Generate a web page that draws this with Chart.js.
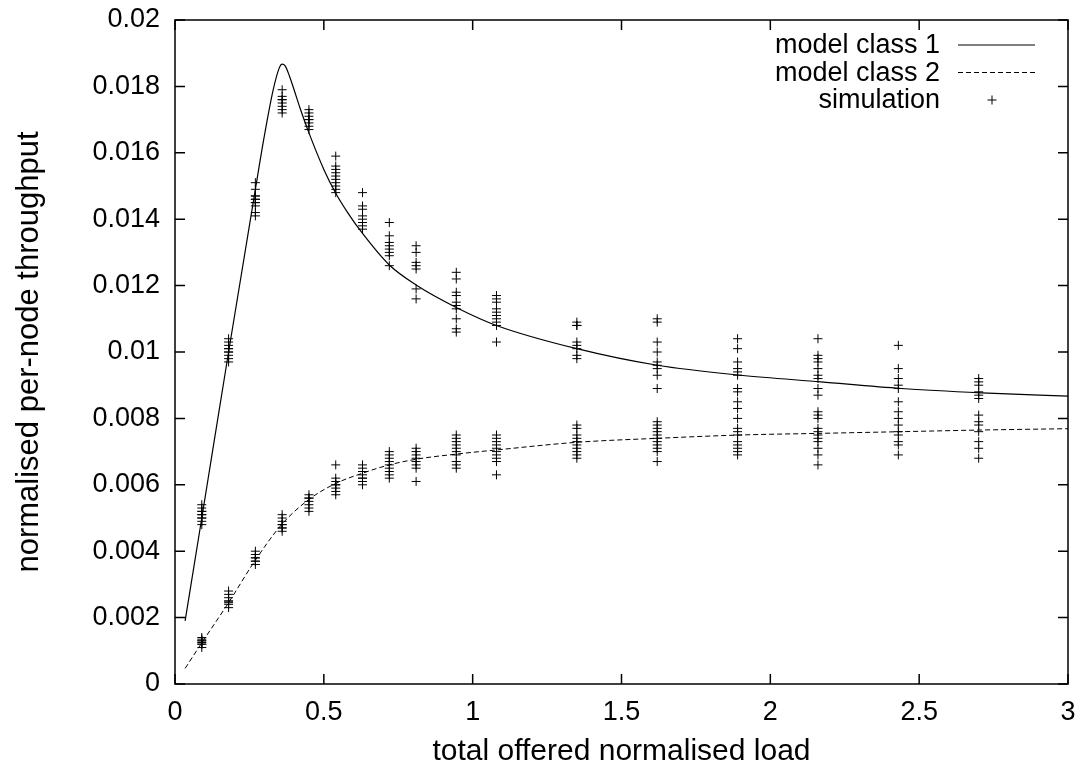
<!DOCTYPE html>
<html>
<head>
<meta charset="utf-8">
<title>Per-node throughput</title>
<script src="https://cdn.jsdelivr.net/npm/chart.js@4.4.1/dist/chart.umd.min.js"></script>
<style>
  html, body { margin: 0; padding: 0; background: #fff; }
  #wrap { width: 1081px; height: 767px; }
</style>
</head>
<body>
<div id="wrap"><canvas id="throughput-chart" width="1081" height="767"></canvas></div>
<script>
// --- Datos ---

// Curva del modelo, clase 1
const model1Load = [0.034, 0.09, 0.18, 0.27, 0.30, 0.33, 0.35, 0.36, 0.37, 0.385, 0.40, 0.42, 0.45, 0.50, 0.54,
                    0.58, 0.63, 0.72, 0.81, 0.95, 1.08, 1.35, 1.62, 1.9, 2.17, 2.44, 2.71, 3.0];
const model1Thr = [0.0019, 0.0050, 0.0100, 0.0149, 0.0165, 0.0179, 0.01855, 0.01867, 0.01862, 0.0183, 0.0179, 0.01735,
                   0.0166, 0.0155, 0.01478, 0.0142, 0.01357, 0.01262, 0.01202, 0.01132, 0.0108, 0.0101, 0.0096,
                   0.0093, 0.0091, 0.0089, 0.00877, 0.00867];

// Curva del modelo, clase 2
const model2Load = [0.034, 0.09, 0.18, 0.27, 0.36, 0.45, 0.54, 0.63, 0.72, 0.81, 0.95, 1.08, 1.35, 1.62, 1.9,
                    2.17, 2.44, 2.71, 3.0];
const model2Thr = [0.00047, 0.00124, 0.00245, 0.00373, 0.00482, 0.00556, 0.00604, 0.00635, 0.0066, 0.00677,
                   0.00693, 0.00705, 0.00728, 0.0074, 0.0075, 0.00755, 0.0076, 0.00765, 0.00769];

// Cargas donde hay simulaciones
const simLoads = [0.09, 0.18, 0.27, 0.36, 0.45, 0.54, 0.63, 0.72, 0.81, 0.945, 1.08, 1.35, 1.62, 1.89, 2.16, 2.43, 2.70];

// Resultados de simulación, clase 1 (una lista por carga)
const simClass1 = [
    [0.0048, 0.0049, 0.0050, 0.0050, 0.0051, 0.0051, 0.0052, 0.0052, 0.0053, 0.0054],
    [0.0097, 0.0098, 0.0099, 0.0100, 0.0100, 0.0101, 0.0101, 0.0102, 0.0103, 0.0104],
    [0.0151, 0.0149, 0.0147, 0.0147, 0.0146, 0.0146, 0.0145, 0.0145, 0.0144, 0.0142, 0.0141],
    [0.0179, 0.0177, 0.0176, 0.0176, 0.0175, 0.0174, 0.0173, 0.0172],
    [0.0173, 0.0172, 0.0171, 0.0170, 0.0170, 0.0169, 0.0168, 0.0167],
    [0.0159, 0.0156, 0.0155, 0.0154, 0.0153, 0.0152, 0.0151, 0.0150, 0.0149, 0.0148],
    [0.0148, 0.0144, 0.0143, 0.0141, 0.0140, 0.0139, 0.0138, 0.0137],
    [0.0139, 0.0135, 0.0133, 0.0132, 0.0131, 0.0130, 0.0129, 0.0126],
    [0.0132, 0.0130, 0.0127, 0.0126, 0.0125, 0.0119, 0.0116],
    [0.0124, 0.0122, 0.0118, 0.0117, 0.0115, 0.0114, 0.0113, 0.0110, 0.0107, 0.0106],
    [0.0117, 0.0116, 0.0115, 0.0113, 0.0112, 0.0111, 0.0110, 0.0109, 0.0108, 0.0103],
    [0.0109, 0.0108, 0.0108, 0.0103, 0.0102, 0.0101, 0.0099, 0.0098],
    [0.0110, 0.0109, 0.0103, 0.0100, 0.0097, 0.0096, 0.0095, 0.0093, 0.0089],
    [0.0104, 0.0101, 0.0097, 0.0095, 0.0094, 0.0093, 0.0089, 0.0088, 0.0085, 0.0083],
    [0.0104, 0.0099, 0.0098, 0.0097, 0.0095, 0.0093, 0.0092, 0.0089, 0.0087],
    [0.0102, 0.0095, 0.0092, 0.0090, 0.0089, 0.0085],
    [0.0092, 0.0091, 0.0090, 0.0088, 0.0087, 0.0086]
];

// Resultados de simulación, clase 2
const simClass2 = [
    [0.0011, 0.0012, 0.0012, 0.00125, 0.0013, 0.0013, 0.00135, 0.0014],
    [0.0023, 0.0024, 0.00245, 0.0025, 0.0025, 0.0026, 0.0027, 0.0028],
    [0.0036, 0.0037, 0.0037, 0.0038, 0.0038, 0.0039, 0.0040],
    [0.0046, 0.0047, 0.0047, 0.0048, 0.0048, 0.0049, 0.0050, 0.0051],
    [0.0052, 0.0053, 0.0054, 0.0055, 0.0056, 0.0056, 0.0057],
    [0.0057, 0.0058, 0.0059, 0.0060, 0.0060, 0.0061, 0.0062, 0.0066],
    [0.0060, 0.0061, 0.0062, 0.0062, 0.0063, 0.0064, 0.0065, 0.0066],
    [0.0062, 0.0063, 0.0064, 0.0065, 0.0066, 0.0067, 0.0068, 0.0069, 0.0070],
    [0.0061, 0.0065, 0.0066, 0.0067, 0.0068, 0.0069, 0.0070, 0.0071],
    [0.0065, 0.0066, 0.0067, 0.0069, 0.0070, 0.0071, 0.0072, 0.0073, 0.0074, 0.0075],
    [0.0063, 0.0067, 0.0068, 0.0069, 0.0070, 0.0071, 0.0072, 0.0073, 0.0074, 0.0075],
    [0.0068, 0.0069, 0.0070, 0.0071, 0.0072, 0.0073, 0.0074, 0.0075, 0.0077, 0.0078],
    [0.0067, 0.0070, 0.0071, 0.0072, 0.0073, 0.0074, 0.0075, 0.0076, 0.0077, 0.0078, 0.0079],
    [0.0069, 0.0070, 0.0071, 0.0072, 0.0073, 0.0075, 0.0076, 0.0077, 0.0080],
    [0.0066, 0.0069, 0.0071, 0.0073, 0.0074, 0.0075, 0.0076, 0.0077, 0.0080, 0.0081, 0.0082],
    [0.0069, 0.0072, 0.0073, 0.0075, 0.0076, 0.0078, 0.0080, 0.0082],
    [0.0068, 0.0071, 0.0073, 0.0076, 0.0078, 0.0079, 0.0081]
];

// Marcas de los ejes
const xTicks = [0, 0.5, 1, 1.5, 2, 2.5, 3];
const yTicks = [0, 0.002, 0.004, 0.006, 0.008, 0.01, 0.012, 0.014, 0.016, 0.018, 0.02];

const seriesLabels = ['model class 1', 'model class 2', 'simulation'];

// --- Estilo ---
const FAMILY = "'Liberation Sans', Arial, Helvetica, sans-serif";
const FONT = { family: FAMILY, size: 27 };
const X_TITLE_FONT = { family: FAMILY, size: 30, lineHeight: 1 };
const Y_TITLE_FONT = { family: FAMILY, size: 31, lineHeight: 1 };
const TICK_LEN = 10;

// Convierte dos listas en puntos {x, y}
function toPoints(xs, ys) {
    return xs.map((x, i) => ({ x: x, y: ys[i] }));
}

// Aplana las simulaciones (todas se dibujan igual, con "+")
function simPoints() {
    const pts = [];
    simLoads.forEach((load, i) => {
        simClass1[i].forEach(v => pts.push({ x: load, y: v }));
        simClass2[i].forEach(v => pts.push({ x: load, y: v }));
    });
    return pts;
}

/**
 * Dibuja el marco y las marcas hacia dentro, estilo gnuplot.
 */
const gnuplotFrame = {
    id: 'gnuplotFrame',
    afterDatasetsDraw(chart) {
        const { ctx, chartArea: a, scales } = chart;
        ctx.save();
        ctx.strokeStyle = '#000';
        ctx.lineWidth = 1.5;
        ctx.beginPath();
        scales.x.ticks.forEach(t => {
            const px = scales.x.getPixelForValue(t.value);
            ctx.moveTo(px, a.bottom); ctx.lineTo(px, a.bottom - TICK_LEN);
            ctx.moveTo(px, a.top); ctx.lineTo(px, a.top + TICK_LEN);
        });
        scales.y.ticks.forEach(t => {
            const py = scales.y.getPixelForValue(t.value);
            ctx.moveTo(a.left, py); ctx.lineTo(a.left + TICK_LEN, py);
            ctx.moveTo(a.right, py); ctx.lineTo(a.right - TICK_LEN, py);
        });
        ctx.stroke();
        ctx.strokeRect(a.left, a.top, a.right - a.left, a.bottom - a.top);
        ctx.restore();
    }
};

/**
 * Leyenda arriba a la derecha: texto alineado a la derecha y muestra a su lado.
 */
const gnuplotKey = {
    id: 'gnuplotKey',
    afterDraw(chart) {
        const { ctx } = chart;
        const textRight = 940, sampleLeft = 958, sampleRight = 1035;
        ctx.save();
        ctx.font = FONT.size + 'px ' + FAMILY;
        ctx.fillStyle = '#000';
        ctx.textAlign = 'right';
        ctx.textBaseline = 'middle';
        chart.data.datasets.forEach((ds, i) => {
            const y = 45 + i * 27.5;
            ctx.fillText(ds.label, textRight, y + 1);
            ctx.strokeStyle = '#000';
            ctx.lineWidth = 1;
            if (ds.showLine) {
                ctx.setLineDash(ds.borderDash || []);
                ctx.beginPath();
                ctx.moveTo(sampleLeft, y); ctx.lineTo(sampleRight, y);
                ctx.stroke();
                ctx.setLineDash([]);
            } else {
                const cx = 992, r = 4.5;
                ctx.beginPath();
                ctx.moveTo(cx - r, y); ctx.lineTo(cx + r, y);
                ctx.moveTo(cx, y - r); ctx.lineTo(cx, y + r);
                ctx.stroke();
            }
        });
        ctx.restore();
    }
};

// --- Gráfico ---
document.addEventListener('DOMContentLoaded', () => {
    const ctx = document.getElementById('throughput-chart');

    new Chart(ctx, {
        type: 'scatter',
        data: {
            datasets: [
                {
                    label: seriesLabels[0],
                    data: toPoints(model1Load, model1Thr),
                    showLine: true,
                    borderColor: '#000',
                    borderWidth: 1.2,
                    pointRadius: 0,
                    cubicInterpolationMode: 'monotone'
                },
                {
                    label: seriesLabels[1],
                    data: toPoints(model2Load, model2Thr),
                    showLine: true,
                    borderColor: '#000',
                    borderWidth: 1,
                    borderDash: [5, 3],
                    pointRadius: 0,
                    cubicInterpolationMode: 'monotone'
                },
                {
                    label: seriesLabels[2],
                    data: simPoints(),
                    showLine: false,
                    pointStyle: 'cross',
                    pointRadius: 4.5,
                    borderColor: '#000',
                    borderWidth: 1,
                    backgroundColor: '#000'
                }
            ]
        },
        options: {
            responsive: false,
            animation: false,
            devicePixelRatio: 1,
            layout: { padding: { top: 20, right: 13, bottom: 0, left: 14 } },
            plugins: {
                legend: { display: false },
                tooltip: { enabled: false }
            },
            scales: {
                x: {
                    type: 'linear',
                    min: 0,
                    max: 3,
                    afterBuildTicks: s => { s.ticks = xTicks.map(v => ({ value: v })); },
                    afterFit: s => { s.height = 83; s.paddingLeft = 0; s.paddingRight = 0; },
                    grid: { display: false, drawTicks: false },
                    border: { display: false },
                    ticks: {
                        color: '#000',
                        font: FONT,
                        padding: 12,
                        maxRotation: 0,
                        callback: v => String(v)
                    },
                    title: {
                        display: true,
                        text: 'total offered normalised load',
                        color: '#000',
                        font: X_TITLE_FONT,
                        padding: 0
                    }
                },
                y: {
                    type: 'linear',
                    min: 0,
                    max: 0.02,
                    afterBuildTicks: s => { s.ticks = yTicks.map(v => ({ value: v })); },
                    afterFit: s => { s.width = 161; s.paddingTop = 0; s.paddingBottom = 0; },
                    grid: { display: false, drawTicks: false },
                    border: { display: false },
                    ticks: {
                        color: '#000',
                        font: FONT,
                        padding: 15,
                        callback: v => String(parseFloat(v.toFixed(3)))
                    },
                    title: {
                        display: true,
                        text: 'normalised per-node throughput',
                        color: '#000',
                        font: Y_TITLE_FONT,
                        padding: 0
                    }
                }
            }
        },
        plugins: [gnuplotFrame, gnuplotKey]
    });
});
</script>
</body>
</html>
